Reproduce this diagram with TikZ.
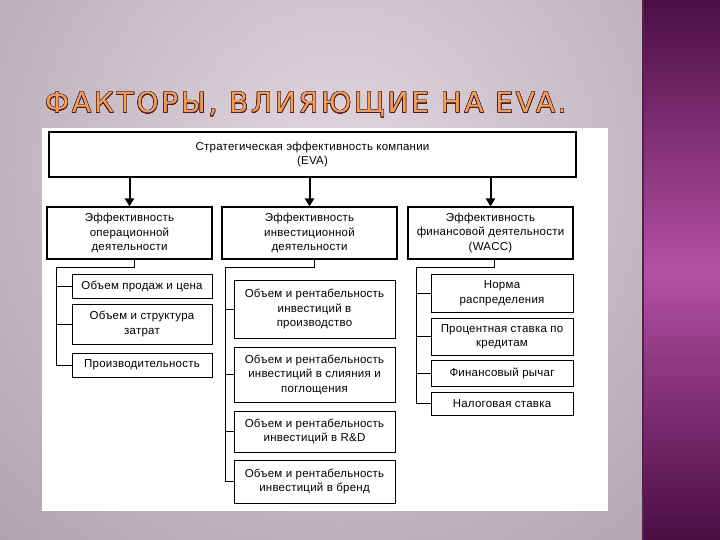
\documentclass[tikz,border=0pt]{standalone}
\usepackage{fontspec}
\setmainfont[LetterSpace=2]{Liberation Sans}
\newfontfamily\titlefont[LetterSpace=10]{DejaVu Sans}
\usepackage{xcolor}
\usepackage{contour}
\contourlength{0.45pt}
\contournumber{24}
\usetikzlibrary{arrows.meta, calc}
\definecolor{bgin}{RGB}{228,214,222}
\definecolor{bgout}{RGB}{154,140,148}
\definecolor{barend}{RGB}{74,14,68}
\definecolor{barmid}{RGB}{180,80,162}
\definecolor{barline}{RGB}{92,28,84}
\definecolor{titlefill}{RGB}{240,158,96}
\definecolor{titleedge}{RGB}{70,30,34}

\begin{document}
\begin{tikzpicture}[x=1pt, y=-1pt, font=\fontsize{11.5}{14.5}\selectfont,
	box/.style={draw, fill=white, align=center, inner sep=0pt, line width=0.8pt},
	headbox/.style={box, line width=1.1pt},
	link/.style={line width=0.8pt},
	arr/.style={line width=2pt, -{Triangle[length=8pt, width=9pt]}}]
	\useasboundingbox (0,0) rectangle (720,540);
	% background and side bar
	\begin{scope}
		\clip (0,0) rectangle (642,540);
		\shade[inner color=bgin, outer color=bgout] (340,170) circle (740);
	\end{scope}
	\shade[top color=barend, bottom color=barend, middle color=barmid] (642,0) rectangle (720,540);
	\draw[barline, line width=2pt] (643,0) -- (643,540);
	\fill[white] (42,128) rectangle (608,511);
	% title
	\node[anchor=base west, inner sep=0pt, text=titlefill, font=\titlefont\fontsize{28}{30}\selectfont] (title) at (45,113) {\contour{titleedge}{ФАКТОРЫ, ВЛИЯЮЩИЕ НА EVA.}};
	% top level
	\node[headbox, minimum width=527pt, minimum height=45pt] (eva) at (312.5,154.5) {Стратегическая эффективность компании\\(EVA)};
	\node[headbox, minimum width=165pt, minimum height=52pt] (op) at (129.5,233) {Эффективность\\операционной\\деятельности};
	\node[headbox, minimum width=175pt, minimum height=52pt] (inv) at (309.5,233) {Эффективность\\инвестиционной\\деятельности};
	\node[headbox, minimum width=165pt, minimum height=52pt] (fin) at (490.5,233) {Эффективность\\финансовой деятельности\\(WACC)};
	\foreach \n in {op,inv,fin}
		\draw[arr] (eva.south -| \n.north) -- (\n.north);
	% operating factors
	\node[box, minimum width=140pt, minimum height=24pt] (op1) at (142,286) {Объем продаж и цена};
	\node[box, minimum width=140pt, minimum height=40pt] (op2) at (142,324) {Объем и структура\\затрат};
	\node[box, minimum width=140pt, minimum height=24pt] (op3) at (142,365) {Производительность};
	\coordinate (opbus) at (56,267);
	\draw[link] ([xshift=4.5pt]op.south) |- (opbus) -- (opbus |- op3.west) -- (op3.west);
	\foreach \n in {op1,op2}
		\draw[link] (opbus |- \n.west) -- (\n.west);
	% investment factors
	\node[box, minimum width=161pt, minimum height=58pt] (inv1) at (314.5,309) {Объем и рентабельность\\инвестиций в\\производство};
	\node[box, minimum width=161pt, minimum height=55pt] (inv2) at (314.5,374.5) {Объем и рентабельность\\инвестиций в слияния и\\поглощения};
	\node[box, minimum width=161pt, minimum height=41pt] (inv3) at (314.5,431.5) {Объем и рентабельность\\инвестиций в R\&D};
	\node[box, minimum width=161pt, minimum height=43pt] (inv4) at (314.5,481.5) {Объем и рентабельность\\инвестиций в бренд};
	\coordinate (invbus) at (225,267);
	\draw[link] ([xshift=5pt]inv.south) |- (invbus) -- (invbus |- inv4.west) -- (inv4.west);
	\foreach \n in {inv1,inv2,inv3}
		\draw[link] (invbus |- \n.west) -- (\n.west);
	% financial factors
	\node[box, minimum width=142pt, minimum height=38pt] (fin1) at (502,293) {Норма\\распределения};
	\node[box, minimum width=142pt, minimum height=37pt] (fin2) at (502,336.5) {Процентная ставка по\\кредитам};
	\node[box, minimum width=142pt, minimum height=26pt] (fin3) at (502,373) {Финансовый рычаг};
	\node[box, minimum width=142pt, minimum height=23pt] (fin4) at (502,403.5) {Налоговая ставка};
	\coordinate (finbus) at (416,267);
	\draw[link] ([xshift=4pt]fin.south) |- (finbus) -- (finbus |- fin4.west) -- (fin4.west);
	\foreach \n in {fin1,fin2,fin3}
		\draw[link] (finbus |- \n.west) -- (\n.west);
\end{tikzpicture}
\end{document}
